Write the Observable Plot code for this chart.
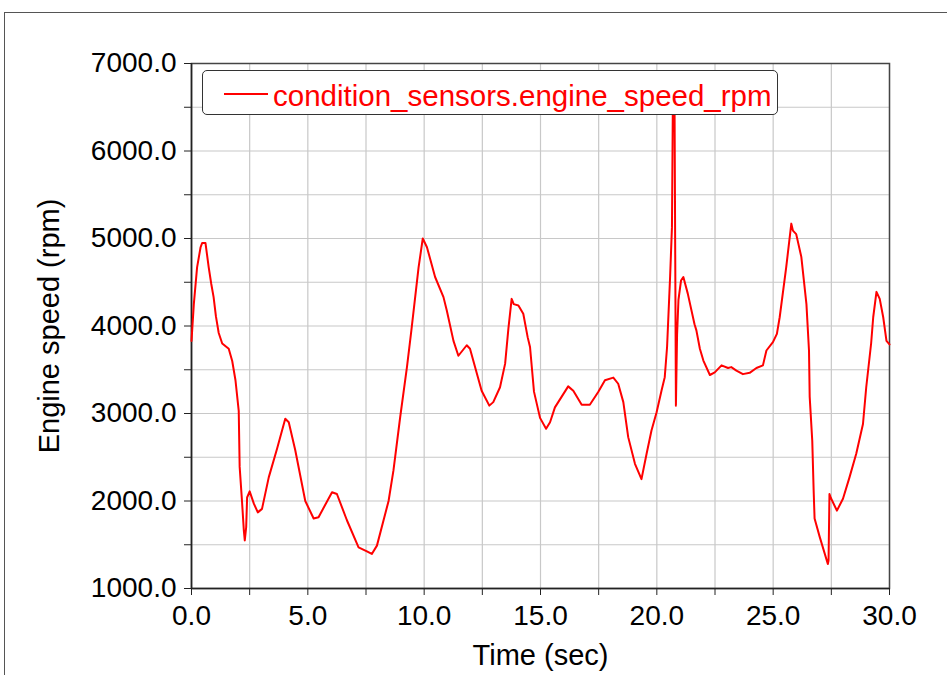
<!DOCTYPE html>
<html>
<head>
<meta charset="utf-8">
<script src="https://cdn.jsdelivr.net/npm/d3@7"></script>
<script src="https://cdn.jsdelivr.net/npm/@observablehq/plot@0.6"></script>
<style>
  html, body { margin: 0; padding: 0; background: #fff; overflow: hidden; }
  #wrap { position: relative; width: 947px; height: 675px; }
  #outer { position: absolute; left: 4px; top: 12px; width: 960px; height: 700px; border-left: 1.5px solid #555; border-top: 1.5px solid #555; pointer-events: none; }
  #legend { position: absolute; left: 202px; top: 70px; width: 576px; height: 45px; box-sizing: border-box;
            border: 1.5px solid #333; border-radius: 5px; background: #fff; }
  #legend .swatch { position: absolute; left: 21px; top: 22px; width: 44px; height: 2px; background: #ff0000; }
  #legend .label { position: absolute; left: 70px; top: 10px; font: 29.5px/29px "Liberation Sans", Arial, sans-serif; color: #ff0000; white-space: nowrap; }
</style>
</head>
<body>
<div id="wrap">
  <div id="chart"></div>
  <div id="outer"></div>
  <div id="legend"><span class="swatch"></span><span class="label" id="legendLabel"></span></div>
</div>
<script>
// ---- data ----
const seriesName = "condition_sensors.engine_speed_rpm";
const xLabel = "Time (sec)";
const yLabel = "Engine speed (rpm)";

const time = [
  0.0, 0.1, 0.24, 0.39, 0.46, 0.6, 0.74, 0.85, 0.95, 1.05, 1.17, 1.32, 1.6, 1.75, 1.89, 2.03, 2.07, 2.17, 2.25, 2.29, 2.35, 2.39,
  2.5, 2.68, 2.85, 3.03, 3.32, 3.68, 4.03, 4.18, 4.46, 4.89, 5.25, 5.46, 6.04, 6.25, 6.68, 7.18, 7.54, 7.75, 7.97, 8.47,
  8.68, 8.97, 9.26, 9.45, 9.76, 9.94, 10.12, 10.47, 10.83, 10.97, 11.26, 11.47, 11.83, 11.97, 12.47, 12.8, 12.97, 13.26, 13.48, 13.62,
  13.76, 13.85, 14.05, 14.26, 14.45, 14.55, 14.72, 14.98, 15.24, 15.41, 15.62, 16.19, 16.41, 16.77, 17.12, 17.48, 17.77, 18.13, 18.34, 18.56,
  18.77, 19.06, 19.34, 19.56, 19.77, 19.99, 20.2, 20.34, 20.44, 20.57, 20.65, 20.69, 20.76, 20.82, 20.87, 20.93, 21.04, 21.14, 21.33, 21.62,
  21.7, 21.85, 22.0, 22.28, 22.49, 22.78, 23.06, 23.2, 23.42, 23.7, 23.99, 24.28, 24.56, 24.71, 24.99, 25.16, 25.28, 25.56, 25.78, 25.85,
  25.99, 26.21, 26.43, 26.54, 26.57, 26.68, 26.74, 26.78, 27.0, 27.35, 27.38, 27.42, 27.47, 27.74, 28.0, 28.28, 28.57, 28.86, 29.0, 29.21,
  29.3, 29.44, 29.58, 29.73, 29.87, 30.0
];
const rpm = [
  3830, 4250, 4670, 4900, 4950, 4950, 4670, 4480, 4330, 4110, 3920, 3800, 3740, 3600, 3380, 3030, 2390, 2000, 1660, 1550, 1700, 2040,
  2110, 1970, 1870, 1910, 2270, 2600, 2940, 2900, 2580, 2000, 1800, 1815, 2100, 2080, 1780, 1470, 1425, 1395, 1490, 2000,
  2350, 2960, 3530, 3950, 4670, 5000, 4900, 4560, 4330, 4180, 3830, 3660, 3780, 3740, 3260, 3090, 3130, 3300, 3570, 3970,
  4310, 4250, 4235, 4140, 3870, 3760, 3250, 2950, 2825, 2900, 3070, 3310, 3260, 3100, 3100, 3245, 3380, 3410, 3340, 3130,
  2730, 2425, 2250, 2540, 2805, 3015, 3260, 3415, 3760, 4560, 5130, 6600, 6600, 3090, 3900, 4300, 4520, 4560, 4370, 4020,
  3950, 3740, 3605, 3440, 3470, 3550, 3520, 3530, 3490, 3450, 3465, 3520, 3550, 3720, 3815, 3910, 4100, 4670, 5170, 5090,
  5050, 4790, 4250, 3720, 3190, 2690, 2120, 1800, 1590, 1280, 1320, 2080, 2040, 1890, 2025, 2270, 2540, 2880, 3300, 3800,
  4100, 4390, 4310, 4100, 3830, 3790
];
const xTicks = [0, 2.5, 5, 7.5, 10, 12.5, 15, 17.5, 20, 22.5, 25, 27.5, 30];
const yTicks = [1000, 1500, 2000, 2500, 3000, 3500, 4000, 4500, 5000, 5500, 6000, 6500, 7000];

const data = time.map((t, i) => ({t, rpm: rpm[i]}));
document.getElementById("legendLabel").textContent = seriesName;

const chart = Plot.plot({
  width: 947,
  height: 675,
  marginLeft: 191,
  marginRight: 58,
  marginTop: 63,
  marginBottom: 87,
  style: {fontFamily: "'Liberation Sans', Arial, sans-serif", fontSize: "29px", color: "#000", background: "transparent"},
  x: {domain: [0, 30]},
  y: {domain: [1000, 7000]},
  marks: [
    Plot.gridX(xTicks, {stroke: "#c8c8c8", strokeOpacity: 1, strokeWidth: 1.2}),
    Plot.gridY(yTicks, {stroke: "#c8c8c8", strokeOpacity: 1, strokeWidth: 1.2}),
    Plot.frame({stroke: "#444", strokeWidth: 1.5}),
    Plot.axisX(xTicks, {
      tickSize: 7, tickPadding: 10, stroke: "#222", fontSize: 28,
      tickFormat: d => (d % 5 === 0 ? d.toFixed(1) : ""),
      label: null
    }),
    Plot.axisX({
      ticks: [], label: xLabel, labelAnchor: "center", labelOffset: 76, labelArrow: "none"
    }),
    Plot.axisY(yTicks, {
      tickSize: 7, tickPadding: 8, stroke: "#222", fontSize: 28,
      tickFormat: d => (d % 1000 === 0 ? d.toFixed(1) : ""),
      label: null
    }),
    Plot.axisY({
      ticks: [], label: yLabel, labelAnchor: "center", labelOffset: 153, labelArrow: "none"
    }),
    Plot.ruleX([0], {stroke: "#222", strokeWidth: 1.5}),
    Plot.ruleY([1000], {stroke: "#222", strokeWidth: 1.5}),
    Plot.line(data, {x: "t", y: "rpm", stroke: "#ff0000", strokeWidth: 2})
  ]
});
document.getElementById("chart").appendChild(chart);
</script>
</body>
</html>
